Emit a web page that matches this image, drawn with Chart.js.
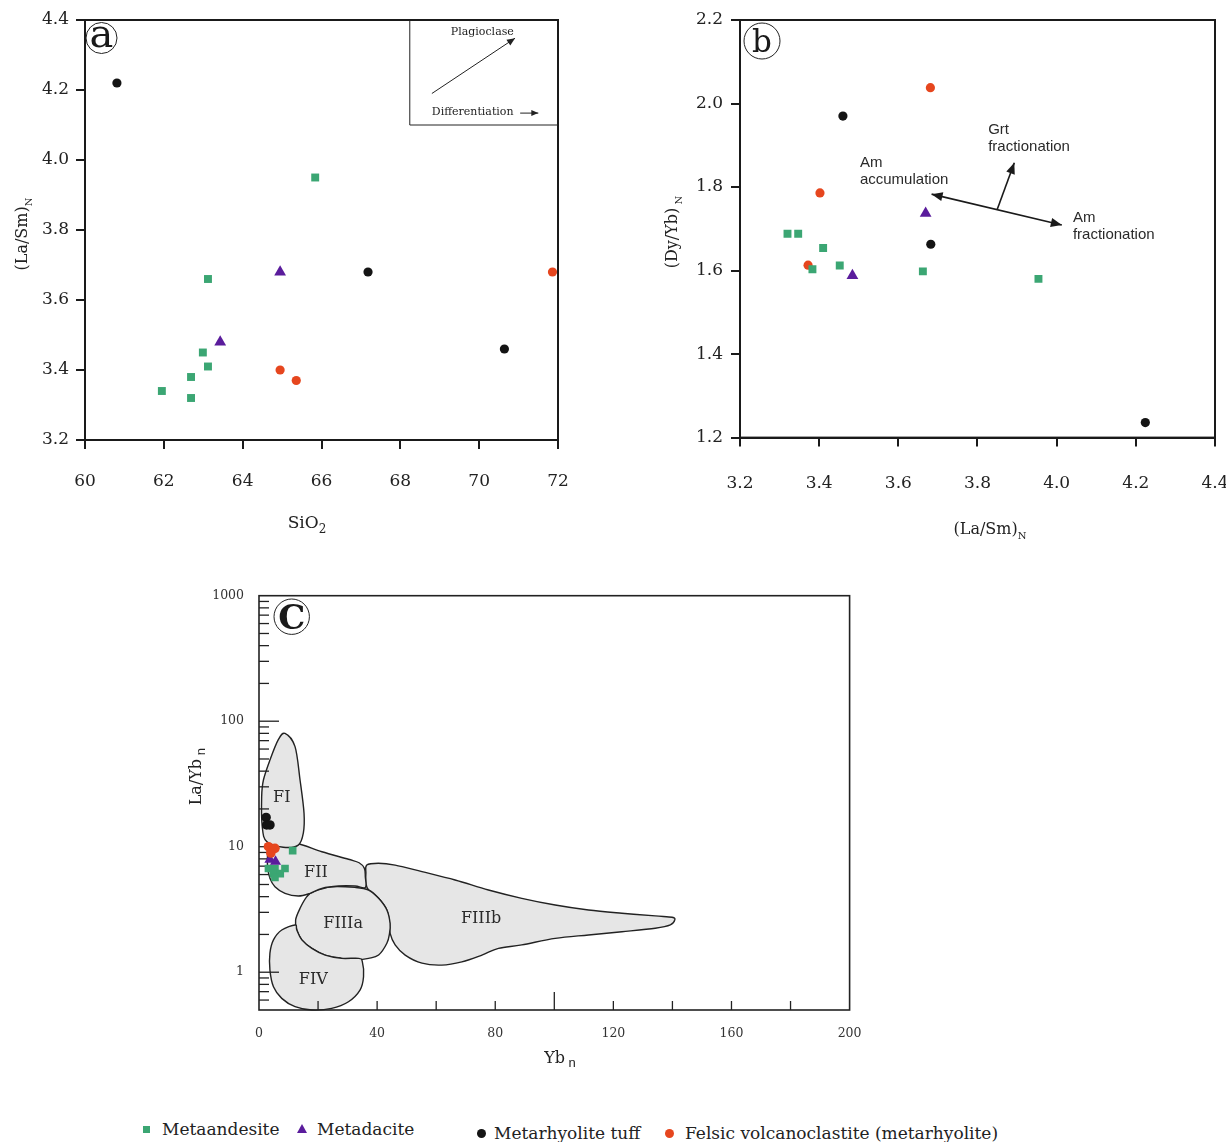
<!DOCTYPE html>
<html>
<head>
<meta charset="utf-8">
<title>REE ratio diagrams</title>
<script src="https://cdn.jsdelivr.net/npm/chart.js@4.4.1/dist/chart.umd.min.js"></script>
<style>
  html, body { margin: 0; padding: 0; background: #fff; }
  body { width: 1226px; height: 1142px; position: relative; overflow: hidden; }
  canvas { position: absolute; }
  #chartA { left: 0; top: 0; }
  #chartB { left: 660px; top: 0; }
  #chartC { left: 180px; top: 580px; }
  .key { position: absolute; font: 17px "DejaVu Serif", serif; color: #222; white-space: nowrap; line-height: 22px; }
  .mk { position: absolute; }
</style>
</head>
<body>
<canvas id="chartA" width="600" height="545"></canvas>
<canvas id="chartB" width="566" height="550"></canvas>
<canvas id="chartC" width="700" height="500"></canvas>
<div id="legend"></div>
<script>
// series, same order in all three panels
const seriesNames  = ['Metaandesite', 'Metadacite', 'Metarhyolite tuff', 'Felsic volcanoclastite (metarhyolite)'];
const seriesColors = ['#3ba673', '#5a1c9c', '#141414', '#e6461e'];
const seriesShapes = ['rect', 'triangle', 'circle', 'circle'];

// (a) SiO2 vs (La/Sm)N
const a_andesite_SiO2 = [61.95, 62.69, 62.69, 62.99, 63.12, 63.12, 65.84];
const a_andesite_LaSm = [3.34, 3.38, 3.32, 3.45, 3.41, 3.66, 3.95];
const a_dacite_SiO2   = [63.43, 64.95];
const a_dacite_LaSm   = [3.48, 3.68];
const a_tuff_SiO2     = [60.81, 67.18, 70.64];
const a_tuff_LaSm     = [4.22, 3.68, 3.46];
const a_felsic_SiO2   = [64.95, 65.36, 71.86];
const a_felsic_LaSm   = [3.40, 3.37, 3.68];
const a_xTicks = [60, 62, 64, 66, 68, 70, 72];
const a_yTicks = [3.2, 3.4, 3.6, 3.8, 4.0, 4.2, 4.4];

// (b) (La/Sm)N vs (Dy/Yb)N
const b_andesite_LaSm = [3.32, 3.347, 3.383, 3.41, 3.452, 3.662, 3.954];
const b_andesite_DyYb = [1.688, 1.688, 1.603, 1.654, 1.612, 1.598, 1.58];
const b_dacite_LaSm   = [3.484, 3.669];
const b_dacite_DyYb   = [1.588, 1.737];
const b_tuff_LaSm     = [3.46, 3.682, 4.224];
const b_tuff_DyYb     = [1.97, 1.663, 1.236];
const b_felsic_LaSm   = [3.372, 3.402, 3.681];
const b_felsic_DyYb   = [1.613, 1.786, 2.038];
const b_xTicks = [3.2, 3.4, 3.6, 3.8, 4.0, 4.2, 4.4];
const b_yTicks = [1.2, 1.4, 1.6, 1.8, 2.0, 2.2];

// (c) Ybn vs La/Ybn
const c_andesite_Yb = [11.4, 3.2, 5.4, 8.8, 4.9, 7.2, 5.4];
const c_andesite_LaYb = [9.3, 6.7, 6.7, 6.7, 6.1, 6.1, 5.7];
const c_dacite_Yb   = [3.7, 5.6];
const c_dacite_LaYb = [7.9, 7.6];
const c_tuff_Yb     = [2.4, 2.6, 3.7];
const c_tuff_LaYb   = [17.1, 14.9, 14.9];
const c_felsic_Yb   = [3.2, 5.4, 4.0];
const c_felsic_LaYb = [10.0, 9.7, 8.9];
const c_xTicks = [0, 40, 80, 120, 160, 200];
const c_yTicks = [1, 10, 100, 1000];
const c_yMin = 0.5;

// fields of panel c, outline vertices as [Ybn, La/Ybn]
const c_FI = [[8.8,80],[12.2,62.7],[13.9,34],[15.25,18.5],[15.0,12.8],[13.3,10.3],[8.2,9.9],[2.6,11],[1.1,14.4],[0.9,25],[1.5,34],[3.7,49],[6.5,71]];
const c_FII = [[3.2,10.3],[7.7,10.3],[12.8,10.6],[21.3,9.12],[30.3,7.94],[33.9,7.45],[35.7,6.72],[36.0,5.77],[36.0,4.74],[32.5,4.86],[26.9,4.86],[21.3,4.66],[17.3,4.25],[13.3,4.05],[8.8,4.25],[5.4,4.8],[3.7,5.6],[2.9,6.93],[2.9,8.85]];
const c_FIIIa = [[18.4,4.38],[24.6,4.8],[32.5,4.74],[37.1,4.52],[40.5,3.88],[43.3,3.13],[44.4,2.45],[44.2,2.04],[43.3,1.70],[40.5,1.37],[37.1,1.29],[32.5,1.25],[28.0,1.29],[22.4,1.37],[17.9,1.55],[14.5,1.81],[12.8,2.17],[12.4,2.61],[13.9,3.23],[16.2,4.0]];
const c_FIIIb = [[36.5,7.14],[40.4,7.38],[46.1,7.14],[55.2,6.33],[66.4,5.43],[77.7,4.52],[89.0,3.88],[100.3,3.43],[111.6,3.13],[122.9,2.95],[134.2,2.81],[139.9,2.74],[140.8,2.61],[139.3,2.38],[134.2,2.24],[122.9,2.10],[111.6,1.98],[100.3,1.86],[89.0,1.65],[81.1,1.55],[75.5,1.37],[68.7,1.21],[61.9,1.14],[55.2,1.18],[49.5,1.37],[46.1,1.65],[44.4,2.04],[44.2,2.45],[43.3,3.13],[40.5,3.88],[37.1,4.52],[36.2,5.1],[36.2,6.14]];
const c_FIV = [[12.2,2.38],[7.7,2.17],[4.9,1.81],[3.7,1.42],[3.7,1.04],[4.9,0.766],[7.7,0.619],[12.2,0.531],[17.9,0.50],[24.6,0.515],[30.3,0.582],[34.2,0.72],[35.4,0.92],[35.0,1.21],[33.7,1.29],[28.0,1.29],[22.4,1.37],[17.9,1.55],[14.5,1.81],[12.8,2.17]];
const c_fieldNames = ['FI', 'FII', 'FIIIa', 'FIIIb', 'FIV'];
const c_fieldLabelX = [7.7, 19.3, 28.5, 75.2, 18.4];
const c_fieldLabelY = [24.3, 6.14, 2.45, 2.64, 0.867];

const SERIF = '"DejaVu Serif", serif';
const SANS = '"Liberation Sans", Arial, sans-serif';

const pts = (xs, ys) => xs.map((x, i) => ({ x: x, y: ys[i] }));

function makeSet(i, xs, ys, radii) {
  return {
    label: seriesNames[i],
    data: pts(xs, ys),
    pointStyle: seriesShapes[i],
    backgroundColor: seriesColors[i],
    borderWidth: 0,
    pointRadius: radii[i],
    pointHoverRadius: radii[i]
  };
}

// outward ticks, fixed tick list
function boxAxis(ticks, fmt, padding, fit) {
  return {
    type: 'linear',
    min: ticks[0],
    max: ticks[ticks.length - 1],
    afterBuildTicks: s => { s.ticks = ticks.map(v => ({ value: v })); },
    afterFit: fit,
    grid: { drawOnChartArea: false, drawTicks: true, tickLength: 9, color: '#1a1a1a', lineWidth: 2 },
    border: { display: true, color: '#1a1a1a', width: 2 },
    ticks: { color: '#222', padding: padding, font: { family: SERIF, size: 17 }, callback: fmt }
  };
}

function richText(ctx, parts, cx, cy, rot) {
  ctx.save();
  ctx.translate(cx, cy);
  if (rot) ctx.rotate(rot);
  ctx.textBaseline = 'alphabetic';
  ctx.fillStyle = '#222';
  let w = 0;
  parts.forEach(p => { ctx.font = p.font; w += ctx.measureText(p.t).width; });
  let x = -w / 2;
  parts.forEach(p => {
    ctx.font = p.font;
    ctx.fillText(p.t, x, p.dy || 0);
    x += ctx.measureText(p.t).width;
  });
  ctx.restore();
}

function arrowHead(ctx, x1, y1, x2, y2, len, half) {
  const a = Math.atan2(y2 - y1, x2 - x1);
  ctx.beginPath();
  ctx.moveTo(x2, y2);
  ctx.lineTo(x2 - len * Math.cos(a) + half * Math.sin(a), y2 - len * Math.sin(a) - half * Math.cos(a));
  ctx.lineTo(x2 - len * Math.cos(a) - half * Math.sin(a), y2 - len * Math.sin(a) + half * Math.cos(a));
  ctx.closePath();
  ctx.fill();
}

function line(ctx, x1, y1, x2, y2) {
  ctx.beginPath(); ctx.moveTo(x1, y1); ctx.lineTo(x2, y2); ctx.stroke();
}

function circledLetter(ctx, letter, cx, cy, r, font, baseDy) {
  ctx.save();
  ctx.strokeStyle = '#222';
  ctx.lineWidth = 1;
  ctx.beginPath(); ctx.arc(cx, cy, r, 0, Math.PI * 2); ctx.stroke();
  ctx.fillStyle = '#1a1a1a';
  ctx.font = font;
  ctx.textAlign = 'center';
  ctx.textBaseline = 'alphabetic';
  ctx.fillText(letter, cx, cy + baseDy);
  ctx.restore();
}

// closed smooth outline through the vertices (pixel space)
function smoothClosed(ctx, p) {
  const n = p.length, t = 1 / 6;
  ctx.moveTo(p[0][0], p[0][1]);
  for (let i = 0; i < n; i++) {
    const p0 = p[(i - 1 + n) % n], p1 = p[i], p2 = p[(i + 1) % n], p3 = p[(i + 2) % n];
    ctx.bezierCurveTo(
      p1[0] + (p2[0] - p0[0]) * t, p1[1] + (p2[1] - p0[1]) * t,
      p2[0] - (p3[0] - p1[0]) * t, p2[1] - (p3[1] - p1[1]) * t,
      p2[0], p2[1]);
  }
  ctx.closePath();
}

const frame = {
  id: 'frame',
  afterDraw(chart) {
    const { ctx, chartArea: ca } = chart;
    ctx.save();
    ctx.strokeStyle = '#1a1a1a';
    ctx.lineWidth = 2;
    ctx.strokeRect(ca.left, ca.top, ca.right - ca.left, ca.bottom - ca.top);
    ctx.restore();
  }
};

const baseOpts = {
  responsive: false,
  animation: false,
  events: [],
  plugins: { legend: { display: false }, tooltip: { enabled: false } }
};

// ---------- panel a ----------
const abRadii = [5.6, 6.8, 4.6, 4.6];
new Chart(document.getElementById('chartA'), {
  type: 'scatter',
  data: {
    datasets: [
      makeSet(0, a_andesite_SiO2, a_andesite_LaSm, abRadii),
      makeSet(1, a_dacite_SiO2, a_dacite_LaSm, abRadii),
      makeSet(2, a_tuff_SiO2, a_tuff_LaSm, abRadii),
      makeSet(3, a_felsic_SiO2, a_felsic_LaSm, abRadii)
    ]
  },
  options: Object.assign({}, baseOpts, {
    layout: { padding: { top: 20, right: 42, left: 0, bottom: 0 } },
    scales: {
      x: boxAxis(a_xTicks, v => String(v), 22, s => { s.height = 105; s.paddingLeft = 0; s.paddingRight = 0; }),
      y: boxAxis(a_yTicks, v => v.toFixed(1), 7, s => { s.width = 85; s.paddingTop = 0; s.paddingBottom = 0; })
    }
  }),
  plugins: [frame, {
    id: 'aNotes',
    afterDraw(chart) {
      const { ctx, chartArea: ca, scales: { x, y } } = chart;
      ctx.save();
      // inset box with the trend arrows
      ctx.strokeStyle = '#222';
      ctx.fillStyle = '#222';
      ctx.lineWidth = 1;
      const bx = x.getPixelForValue(68.24), by = y.getPixelForValue(4.10);
      ctx.beginPath();
      ctx.moveTo(bx, ca.top); ctx.lineTo(bx, by); ctx.lineTo(ca.right, by);
      ctx.stroke();
      const p1 = [x.getPixelForValue(68.8), y.getPixelForValue(4.19)];
      const p2 = [x.getPixelForValue(70.91), y.getPixelForValue(4.348)];
      line(ctx, p1[0], p1[1], p2[0], p2[1]);
      arrowHead(ctx, p1[0], p1[1], p2[0], p2[1], 8, 3.5);
      ctx.font = '11px ' + SERIF;
      ctx.textAlign = 'center';
      ctx.textBaseline = 'middle';
      ctx.fillText('Plagioclase', x.getPixelForValue(70.08), y.getPixelForValue(4.366));
      ctx.textAlign = 'left';
      ctx.fillText('Differentiation', x.getPixelForValue(68.8), y.getPixelForValue(4.138));
      const d1 = x.getPixelForValue(71.04), d2 = x.getPixelForValue(71.5), dy = y.getPixelForValue(4.134);
      line(ctx, d1, dy, d2, dy);
      arrowHead(ctx, d1, dy, d2, dy, 7, 3);
      ctx.restore();

      circledLetter(ctx, 'a', ca.left + 16.5, ca.top + 18, 15.5, '40px ' + SERIF, 9);
      richText(ctx, [{ t: 'SiO', font: '17px ' + SERIF }, { t: '2', font: '12px ' + SERIF, dy: 5 }], ca.left + 222, ca.bottom + 88);
      richText(ctx, [{ t: '(La/Sm)', font: '16px ' + SERIF }, { t: 'N', font: '10px ' + SERIF, dy: 5 }], ca.left - 58, ca.top + 214, -Math.PI / 2);
    }
  }]
});

// ---------- panel b ----------
new Chart(document.getElementById('chartB'), {
  type: 'scatter',
  data: {
    datasets: [
      makeSet(0, b_andesite_LaSm, b_andesite_DyYb, abRadii),
      makeSet(1, b_dacite_LaSm, b_dacite_DyYb, abRadii),
      makeSet(2, b_tuff_LaSm, b_tuff_DyYb, abRadii),
      makeSet(3, b_felsic_LaSm, b_felsic_DyYb, abRadii)
    ]
  },
  options: Object.assign({}, baseOpts, {
    layout: { padding: { top: 20, right: 11, left: 0, bottom: 0 } },
    scales: {
      x: boxAxis(b_xTicks, v => v.toFixed(1), 27, s => { s.height = 112.4; s.paddingLeft = 0; s.paddingRight = 0; }),
      y: boxAxis(b_yTicks, v => v.toFixed(1), 8, s => { s.width = 80; s.paddingTop = 0; s.paddingBottom = 0; })
    }
  }),
  plugins: [frame, {
    id: 'bNotes',
    afterDraw(chart) {
      const { ctx, chartArea: ca, scales: { x, y } } = chart;
      ctx.save();
      ctx.strokeStyle = '#1a1a1a';
      ctx.fillStyle = '#1a1a1a';
      ctx.lineWidth = 1.6;
      const A = [x.getPixelForValue(3.684), y.getPixelForValue(1.783)];
      const B = [x.getPixelForValue(4.013), y.getPixelForValue(1.709)];
      line(ctx, A[0], A[1], B[0], B[1]);
      arrowHead(ctx, B[0], B[1], A[0], A[1], 11, 4.5);
      arrowHead(ctx, A[0], A[1], B[0], B[1], 11, 4.5);
      const C = [x.getPixelForValue(3.850), y.getPixelForValue(1.747)];
      const D = [x.getPixelForValue(3.893), y.getPixelForValue(1.858)];
      line(ctx, C[0], C[1], D[0], D[1]);
      arrowHead(ctx, C[0], C[1], D[0], D[1], 11, 4.5);

      ctx.fillStyle = '#2a2a2a';
      ctx.font = '15px ' + SANS;
      ctx.textAlign = 'left';
      ctx.textBaseline = 'middle';
      ctx.fillText('Am', x.getPixelForValue(3.503), y.getPixelForValue(1.858));
      ctx.fillText('accumulation', x.getPixelForValue(3.503), y.getPixelForValue(1.817));
      ctx.fillText('Grt', x.getPixelForValue(3.827), y.getPixelForValue(1.937));
      ctx.fillText('fractionation', x.getPixelForValue(3.827), y.getPixelForValue(1.896));
      ctx.fillText('Am', x.getPixelForValue(4.041), y.getPixelForValue(1.726));
      ctx.fillText('fractionation', x.getPixelForValue(4.041), y.getPixelForValue(1.685));
      ctx.restore();

      circledLetter(ctx, 'b', ca.left + 22, ca.top + 21, 18, '31px ' + SERIF, 11);
      richText(ctx, [{ t: '(La/Sm)', font: '16px ' + SERIF }, { t: 'N', font: '10px ' + SERIF, dy: 5 }], ca.left + 250, ca.bottom + 96);
      richText(ctx, [{ t: '(Dy/Yb)', font: '16px ' + SERIF }, { t: ' N', font: '10px ' + SERIF, dy: 5 }], ca.left - 63, ca.top + 212, -Math.PI / 2);
    }
  }]
});

// ---------- panel c ----------
const cRadii = [5.4, 6.4, 4.8, 4.8];
new Chart(document.getElementById('chartC'), {
  type: 'scatter',
  data: {
    datasets: [
      makeSet(2, c_tuff_Yb, c_tuff_LaYb, cRadii),
      makeSet(3, c_felsic_Yb, c_felsic_LaYb, cRadii),
      makeSet(1, c_dacite_Yb, c_dacite_LaYb, cRadii),
      makeSet(0, c_andesite_Yb, c_andesite_LaYb, cRadii)
    ]
  },
  options: Object.assign({}, baseOpts, {
    layout: { padding: { top: 15.7, right: 30.4, left: 0, bottom: 0 } },
    scales: {
      x: {
        type: 'linear', min: c_xTicks[0], max: c_xTicks[c_xTicks.length - 1],
        afterBuildTicks: s => { s.ticks = c_xTicks.map(v => ({ value: v })); },
        afterFit: s => { s.height = 70; s.paddingLeft = 0; s.paddingRight = 0; },
        grid: { display: false, drawTicks: false },
        border: { display: false },
        ticks: { color: '#333', padding: 16, font: { family: SERIF, size: 12.5 } }
      },
      y: {
        type: 'logarithmic', min: c_yMin, max: c_yTicks[c_yTicks.length - 1],
        afterBuildTicks: s => { s.ticks = c_yTicks.map(v => ({ value: v })); },
        afterFit: s => { s.width = 79; s.paddingTop = 0; s.paddingBottom = 0; },
        grid: { display: false, drawTicks: false },
        border: { display: false },
        ticks: { color: '#333', padding: 15, font: { family: SERIF, size: 12.5 }, callback: v => String(v) }
      }
    }
  }),
  plugins: [{
    id: 'cFields',
    beforeDatasetsDraw(chart) {
      const { ctx, chartArea: ca, scales: { x, y } } = chart;
      const toPx = arr => arr.map(p => [x.getPixelForValue(p[0]), y.getPixelForValue(p[1])]);
      ctx.save();
      ctx.fillStyle = '#e6e6e6';
      ctx.strokeStyle = '#222';
      ctx.lineWidth = 1.4;
      [c_FIIIb, c_FIIIa, c_FIV, c_FII, c_FI].forEach(f => {
        ctx.beginPath();
        smoothClosed(ctx, toPx(f));
        ctx.fill();
        ctx.stroke();
      });
      ctx.fillStyle = '#2a2a2a';
      ctx.font = '16px ' + SERIF;
      ctx.textAlign = 'center';
      ctx.textBaseline = 'middle';
      c_fieldNames.forEach((n, i) => ctx.fillText(n, x.getPixelForValue(c_fieldLabelX[i]), y.getPixelForValue(c_fieldLabelY[i])));

      // inward tick marks
      ctx.strokeStyle = '#222';
      ctx.lineWidth = 1.3;
      for (let v = x.min + 20; v < x.max; v += 20) {
        const px = x.getPixelForValue(v);
        line(ctx, px, ca.bottom, px, ca.bottom - (v === 100 ? 18 : 9));
      }
      for (let e = -1; e < 3; e++) {
        for (let m = 1; m < 10; m++) {
          const v = m * Math.pow(10, e);
          if (v <= y.min || v >= y.max) continue;
          const py = y.getPixelForValue(v);
          line(ctx, ca.left, py, ca.left + (m === 1 ? 20 : 10), py);
        }
      }
      ctx.lineWidth = 1.6;
      ctx.strokeRect(ca.left, ca.top, ca.right - ca.left, ca.bottom - ca.top);
      ctx.restore();
    },
    afterDraw(chart) {
      const { ctx, chartArea: ca } = chart;
      circledLetter(ctx, 'C', ca.left + 32.7, ca.top + 21, 17.7, 'bold 34px ' + SERIF, 12);
      richText(ctx, [{ t: 'Yb', font: '16px ' + SERIF }, { t: ' n', font: '13px ' + SANS, dy: 4 }], ca.left + 301, ca.bottom + 53);
      richText(ctx, [{ t: 'La/Yb', font: '16px ' + SERIF }, { t: ' n', font: '13px ' + SANS, dy: 4 }], ca.left - 58, ca.top + 181, -Math.PI / 2);
    }
  }]
});

// ---------- legend ----------
const legendMarkLeft = [143, 297, 477, 665];
const legendTextLeft = [162, 317, 494, 685];
const legendCenterY = [1129, 1129, 1133, 1133];
const legend = document.getElementById('legend');
seriesNames.forEach((name, i) => {
  const mk = document.createElement('div');
  mk.className = 'mk';
  const c = seriesColors[i], cy = legendCenterY[i];
  if (seriesShapes[i] === 'rect') {
    Object.assign(mk.style, { left: legendMarkLeft[i] + 'px', top: (cy - 3.5) + 'px', width: '7px', height: '7px', background: c });
  } else if (seriesShapes[i] === 'triangle') {
    Object.assign(mk.style, { left: legendMarkLeft[i] + 'px', top: (cy - 5) + 'px', width: 0, height: 0,
      borderLeft: '5px solid transparent', borderRight: '5px solid transparent', borderBottom: '9px solid ' + c });
  } else {
    Object.assign(mk.style, { left: legendMarkLeft[i] + 'px', top: (cy - 4.5) + 'px', width: '9px', height: '9px', borderRadius: '50%', background: c });
  }
  legend.appendChild(mk);
  const tx = document.createElement('div');
  tx.className = 'key';
  tx.textContent = name;
  tx.style.left = legendTextLeft[i] + 'px';
  tx.style.top = (cy - 11) + 'px';
  legend.appendChild(tx);
});
</script>
</body>
</html>
